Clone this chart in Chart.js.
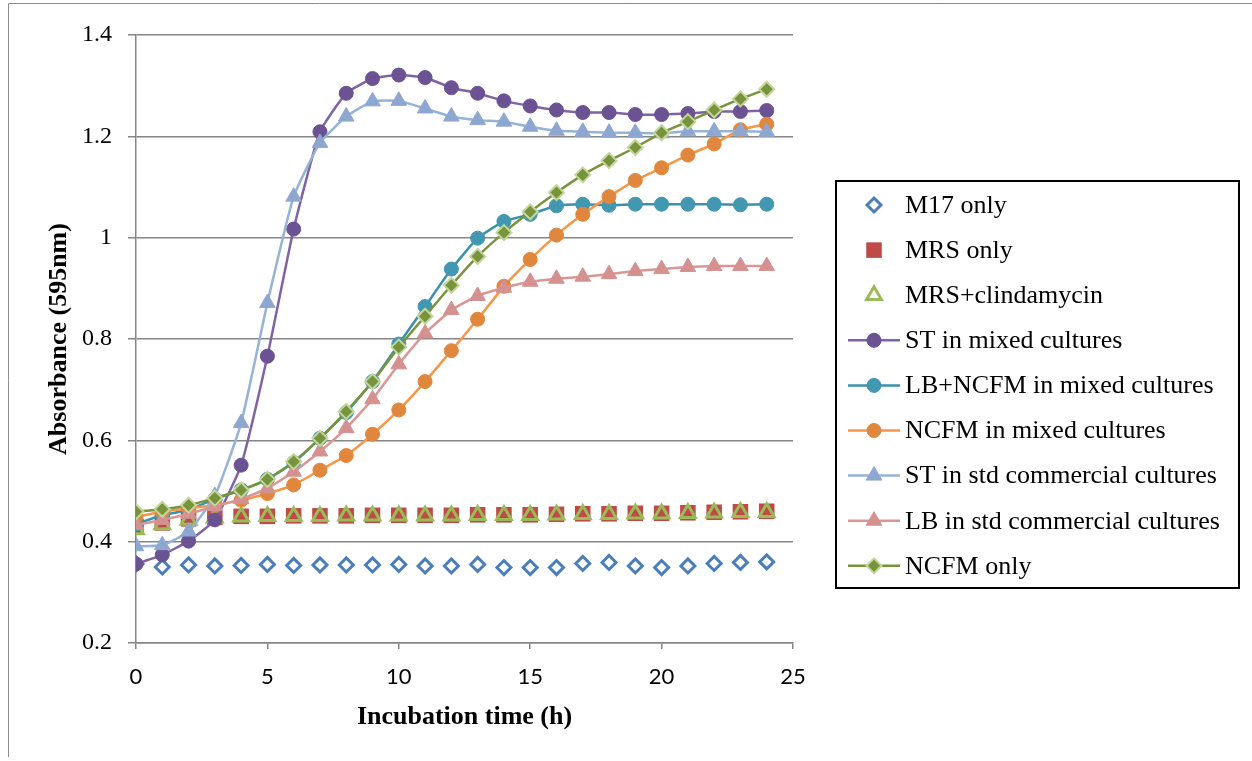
<!DOCTYPE html>
<html>
<head>
<meta charset="utf-8">
<script src="https://cdn.jsdelivr.net/npm/chart.js@4"></script>
<style>
  html, body { margin: 0; padding: 0; background: #ffffff; }
  #wrap { width: 1252px; height: 761px; }
</style>
</head>
<body>
<div id="wrap"><canvas id="chart" width="1252" height="761"></canvas></div>
<script>
// Incubation time (h)
const hours = [0,1,2,3,4,5,6,7,8,9,10,11,12,13,14,15,16,17,18,19,20,21,22,23,24];

// Absorbance at 595 nm, one array per culture
const m17Only = [0.356,0.350,0.354,0.352,0.353,0.355,0.353,0.354,0.354,0.354,0.355,0.352,0.352,0.355,0.349,0.349,0.349,0.357,0.359,0.352,0.349,0.352,0.357,0.359,0.360];
const mrsOnly = [0.430,0.437,0.445,0.448,0.450,0.450,0.451,0.451,0.451,0.452,0.452,0.452,0.452,0.453,0.453,0.453,0.454,0.455,0.455,0.456,0.456,0.457,0.458,0.459,0.460];
const mrsClindamycin = [0.424,0.434,0.443,0.447,0.449,0.450,0.450,0.450,0.451,0.451,0.451,0.451,0.451,0.452,0.452,0.452,0.453,0.454,0.454,0.455,0.455,0.456,0.457,0.458,0.458];
const stMixed = [0.356,0.374,0.401,0.443,0.551,0.766,1.017,1.209,1.285,1.314,1.321,1.316,1.296,1.285,1.270,1.260,1.252,1.247,1.247,1.243,1.243,1.245,1.249,1.249,1.251];
const lbNcfmMixed = [0.435,0.452,0.463,0.484,0.502,0.523,0.556,0.604,0.655,0.716,0.790,0.864,0.938,0.999,1.032,1.046,1.063,1.066,1.064,1.066,1.066,1.066,1.066,1.065,1.066];
const ncfmMixed = [0.449,0.459,0.466,0.472,0.482,0.495,0.512,0.541,0.570,0.612,0.660,0.716,0.777,0.839,0.904,0.957,1.005,1.046,1.081,1.113,1.138,1.163,1.185,1.213,1.224];
const stStd = [0.391,0.393,0.420,0.490,0.634,0.871,1.081,1.187,1.239,1.269,1.270,1.255,1.239,1.232,1.229,1.219,1.211,1.209,1.207,1.207,1.206,1.210,1.210,1.210,1.209];
const lbStd = [0.433,0.443,0.455,0.470,0.484,0.505,0.538,0.578,0.624,0.681,0.750,0.811,0.857,0.885,0.901,0.913,0.919,0.923,0.928,0.934,0.938,0.942,0.944,0.944,0.944];
const ncfmOnly = [0.459,0.464,0.472,0.486,0.502,0.523,0.558,0.604,0.657,0.716,0.784,0.845,0.906,0.963,1.010,1.051,1.089,1.124,1.152,1.178,1.207,1.229,1.252,1.274,1.293];

// Axis ticks
const xTicks = [0,5,10,15,20,25];
const yTicks = [0.2,0.4,0.6,0.8,1,1.2,1.4];
const yTickLabels = ['0.2','0.4','0.6','0.8','1','1.2','1.4'];

const serif = '"Liberation Serif", "Times New Roman", serif';

function pts(values) {
  return hours.map((h, i) => ({ x: h, y: values[i] }));
}

function markerSeries(label, values, style) {
  return Object.assign({
    label,
    data: pts(values),
    showLine: false,
    borderWidth: 0,
    pointHoverRadius: 0
  }, style);
}

function lineSeries(label, values, line, marker, style) {
  return Object.assign({
    label,
    data: pts(values),
    showLine: true,
    borderColor: line,
    backgroundColor: line,
    borderWidth: 2.5,
    tension: 0.15,
    pointBackgroundColor: marker,
    pointBorderColor: marker,
    pointBorderWidth: 1,
    pointStyle: 'circle',
    pointRadius: 7,
    pointHoverRadius: 7
  }, style || {});
}

const datasets = [
  markerSeries('M17 only', m17Only, {
    pointStyle: 'rectRot', pointRadius: 7, pointBorderWidth: 3,
    pointBorderColor: '#4A7EBB', pointBackgroundColor: 'rgba(0,0,0,0)',
    borderColor: '#4A7EBB', backgroundColor: 'rgba(0,0,0,0)'
  }),
  markerSeries('MRS only', mrsOnly, {
    pointStyle: 'rect', pointRadius: 11, pointBorderWidth: 0,
    pointBorderColor: '#BE4B48', pointBackgroundColor: '#BE4B48',
    borderColor: '#BE4B48', backgroundColor: '#BE4B48'
  }),
  markerSeries('MRS+clindamycin', mrsClindamycin, {
    pointStyle: 'triangle', pointRadius: 8.5, pointBorderWidth: 3,
    pointBorderColor: '#9BBB59', pointBackgroundColor: 'rgba(0,0,0,0)',
    borderColor: '#9BBB59', backgroundColor: 'rgba(0,0,0,0)'
  }),
  lineSeries('ST in mixed cultures', stMixed, '#7F63A3', '#6B5293'),
  lineSeries('LB+NCFM in mixed cultures', lbNcfmMixed, '#3A92AA', '#4198B0'),
  lineSeries('NCFM in mixed cultures', ncfmMixed, '#F79646', '#E0873D'),
  lineSeries('ST in std commercial cultures', stStd, '#95B3D7', '#8EA7D0',
    { pointStyle: 'triangle', pointRadius: 9 }),
  lineSeries('LB in std commercial cultures', lbStd, '#D99694', '#D49190',
    { pointStyle: 'triangle', pointRadius: 9 }),
  lineSeries('NCFM only', ncfmOnly, '#77933C', '#77933C',
    { pointStyle: 'rectRot', pointRadius: 7.5, pointBorderColor: '#C3D69B', pointBorderWidth: 2 })
];
// later series sit on top of earlier ones
datasets.forEach((d, i) => { d.order = datasets.length - i; });

// Thin frame around the whole figure
const framePlugin = {
  id: 'frame',
  beforeDraw(chart) {
    const ctx = chart.ctx;
    ctx.save();
    ctx.fillStyle = '#ffffff';
    ctx.fillRect(0, 0, chart.width, chart.height);
    ctx.strokeStyle = '#8c8c8c';
    ctx.lineWidth = 1;
    ctx.beginPath();
    ctx.moveTo(8.5, 757);
    ctx.lineTo(8.5, 3.5);
    ctx.lineTo(chart.width, 3.5);
    ctx.stroke();
    ctx.restore();
  }
};

// Boxed legend with line + marker samples
const boxLegendPlugin = {
  id: 'boxLegend',
  afterDraw(chart) {
    const ctx = chart.ctx;
    const box = { left: 836, top: 181, right: 1239, bottom: 588 };
    ctx.save();
    ctx.strokeStyle = '#000000';
    ctx.lineWidth = 2;
    ctx.strokeRect(box.left, box.top, box.right - box.left, box.bottom - box.top);
    const rowH = 45.1;
    const firstY = 205;
    const markX = 874;
    chart.data.datasets.forEach((ds, i) => {
      const y = firstY + i * rowH;
      if (ds.showLine) {
        ctx.strokeStyle = ds.borderColor;
        ctx.lineWidth = ds.borderWidth;
        ctx.beginPath();
        ctx.moveTo(848, y);
        ctx.lineTo(900, y);
        ctx.stroke();
      }
      ctx.fillStyle = ds.pointBackgroundColor;
      ctx.strokeStyle = ds.pointBorderColor;
      ctx.lineWidth = ds.pointBorderWidth;
      Chart.helpers.drawPoint(ctx, {
        pointStyle: ds.pointStyle,
        radius: ds.pointRadius,
        rotation: 0,
        borderWidth: ds.pointBorderWidth
      }, markX, y);
      ctx.fillStyle = '#000000';
      ctx.font = '26px ' + serif;
      ctx.textAlign = 'left';
      ctx.textBaseline = 'middle';
      ctx.fillText(ds.label, 905, y + 1);
    });
    ctx.restore();
  }
};

new Chart(document.getElementById('chart'), {
  type: 'scatter',
  data: { datasets },
  plugins: [framePlugin, boxLegendPlugin],
  options: {
    responsive: false,
    animation: false,
    layout: { padding: { left: 0, top: 35, right: 459, bottom: 0 } },
    plugins: {
      legend: { display: false },
      tooltip: { enabled: false }
    },
    scales: {
      x: {
        type: 'linear',
        min: 0,
        max: 25,
        afterFit(scale) { scale.height = 118; },
        afterBuildTicks(scale) { scale.ticks = xTicks.map(v => ({ value: v })); },
        ticks: {
          padding: 15,
          color: '#000000',
          font: { family: 'Lato, "Open Sans", sans-serif', size: 22 },
          callback: (v) => String(v)
        },
        grid: {
          drawOnChartArea: false,
          drawTicks: true,
          tickLength: 6,
          color: '#868686',
          lineWidth: 1.5
        },
        border: { color: '#868686', width: 1.5 },
        title: {
          display: true,
          text: 'Incubation time (h)',
          color: '#000000',
          font: { family: serif, size: 26, weight: 'bold' },
          padding: { top: 0, bottom: 28 }
        }
      },
      y: {
        type: 'linear',
        min: 0.2,
        max: 1.4,
        afterFit(scale) { scale.width = 136; },
        afterBuildTicks(scale) { scale.ticks = yTicks.map(v => ({ value: v })); },
        ticks: {
          padding: 16,
          color: '#000000',
          font: { family: serif, size: 24 },
          callback: (v) => yTickLabels[yTicks.findIndex(t => Math.abs(t - v) < 1e-9)]
        },
        grid: {
          color: '#868686',
          lineWidth: 1.5,
          drawTicks: true,
          tickLength: 8
        },
        border: { color: '#868686', width: 1.5 },
        title: {
          display: true,
          text: 'Absorbance (595nm)',
          color: '#000000',
          font: { family: serif, size: 26, weight: 'bold' },
          padding: { top: 44, bottom: 0 }
        }
      }
    }
  }
});
</script>
</body>
</html>
